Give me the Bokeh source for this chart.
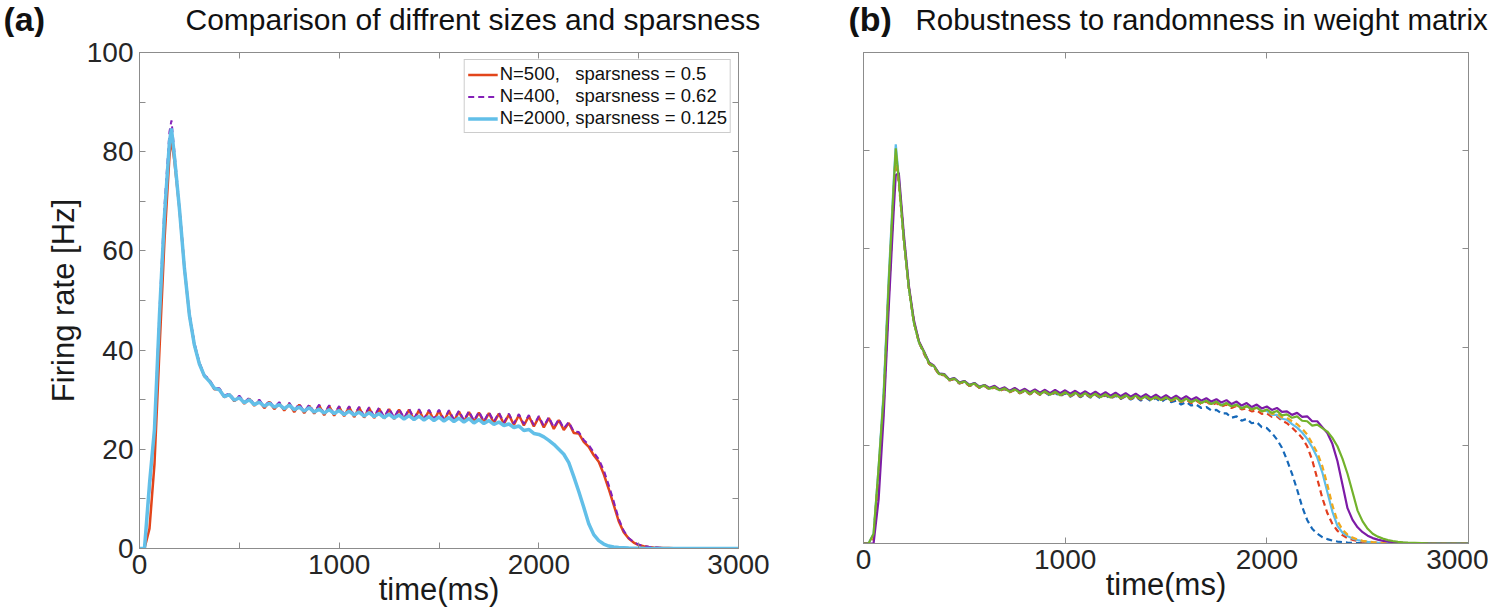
from bokeh.plotting import figure
from bokeh.models import LinearAxis, Range1d, FixedTicker, Legend, LegendItem, Label
from bokeh.layouts import row, column
from bokeh.embed import file_html
from bokeh.resources import INLINE

# ---------------- data ----------------
time_ms = [0, 25, 50, 75,
           100, 125, 150, 160, 175,
           200, 225, 250, 275,
           300, 325, 350, 375,
           400, 425, 450, 475,
           500, 525, 550, 575,
           600, 625, 650, 675,
           700, 725, 750, 775,
           800, 825, 850, 875,
           900, 925, 950, 975,
           1000, 1025, 1050, 1075,
           1100, 1125, 1150, 1175,
           1200, 1225, 1250, 1275,
           1300, 1325, 1350, 1375,
           1400, 1425, 1450, 1475,
           1500, 1525, 1550, 1575,
           1600, 1625, 1650, 1675,
           1700, 1725, 1750, 1775,
           1800, 1825, 1850, 1875,
           1900, 1925, 1950, 1975,
           2000, 2025, 2050, 2075,
           2100, 2125, 2150, 2175,
           2200, 2225, 2250, 2275,
           2300, 2325, 2350, 2375,
           2400, 2425, 2450, 2475,
           2500, 2525, 2550, 2575,
           2600, 2625, 2650, 2675,
           2700, 2800, 2900, 3000]

# panel (a)
rate_n500 = [0, 0, 4, 17,
             40, 62, 79, 82.7, 78,
             68.5, 56.5, 47, 41,
             37.3, 34.7, 33.9, 32.1,
             32.1, 30.5, 31.1, 29.7,
             30.6, 29.2, 30.2, 28.8,
             29.8, 28.3, 29.6, 28.1,
             29.3, 27.8, 29.2, 27.5,
             29.0, 27.3, 28.8, 27.2,
             28.8, 26.9, 28.7, 26.8,
             28.5, 26.7, 28.5, 26.5,
             28.4, 26.4, 28.3, 26.3,
             28.2, 26.2, 28.1, 26.1,
             28.0, 26.0, 28.0, 25.9,
             27.9, 25.9, 27.8, 25.8,
             27.8, 25.7, 27.7, 25.7,
             27.6, 25.6, 27.5, 25.5,
             27.4, 25.4, 27.3, 25.3,
             27.2, 25.1, 27.0, 24.9,
             26.9, 24.8, 26.7, 24.6,
             26.5, 24.4, 26.3, 24.1,
             25.9, 23.9, 25.3, 23.3,
             23.2, 21.5, 20.5, 18.8,
             17.5, 15.0, 12.0, 8.8,
             5.5, 3.3, 2.0, 1.2,
             0.7, 0.45, 0.3, 0.2,
             0.15, 0.1, 0.08, 0.05,
             0.03, 0.01, 0, 0]

rate_n400 = [0, 0, 12, 24,
             48, 69, 84, 86.3, 80,
             69, 57, 47.5, 41.5,
             37.5, 35.0, 34.1, 32.4,
             32.3, 30.8, 31.3, 30.0,
             30.8, 29.5, 30.4, 29.1,
             30.0, 28.6, 29.8, 28.4,
             29.5, 28.1, 29.4, 27.8,
             29.2, 27.6, 29.0, 27.5,
             29.0, 27.2, 28.9, 27.1,
             28.7, 27.0, 28.7, 26.8,
             28.6, 26.7, 28.5, 26.6,
             28.4, 26.5, 28.3, 26.4,
             28.2, 26.3, 28.2, 26.2,
             28.1, 26.2, 28.0, 26.1,
             28.0, 26.0, 27.9, 26.0,
             27.8, 25.9, 27.7, 25.8,
             27.6, 25.7, 27.5, 25.6,
             27.4, 25.4, 27.2, 25.2,
             27.1, 25.1, 26.9, 24.9,
             26.7, 24.7, 26.5, 24.4,
             26.1, 24.2, 25.5, 23.6,
             23.5, 21.9, 20.9, 19.4,
             18.0, 15.8, 12.8, 9.5,
             6.0, 3.6, 2.1, 1.3,
             0.8, 0.5, 0.35, 0.25,
             0.18, 0.12, 0.09, 0.06,
             0.04, 0.01, 0, 0]

rate_n2000 = [0, 0, 13, 24,
              47, 67, 82, 84.7, 79,
              68.5, 56.5, 47, 41,
              37.2, 34.8, 33.7, 32.3,
              32.0, 30.6, 31.0, 29.9,
              30.4, 29.4, 30.0, 29.0,
              29.5, 28.7, 29.3, 28.5,
              29.0, 28.2, 28.9, 28.0,
              28.5, 27.7, 28.4, 27.5,
              28.1, 27.3, 28.0, 27.2,
              27.8, 27.0, 27.7, 26.9,
              27.5, 26.7, 27.4, 26.6,
              27.2, 26.4, 27.1, 26.3,
              26.9, 26.1, 26.8, 26.0,
              26.7, 25.9, 26.6, 25.8,
              26.5, 25.7, 26.4, 25.6,
              26.3, 25.5, 26.2, 25.3,
              26.0, 25.2, 25.8, 25.0,
              25.5, 24.8, 25.1, 24.4,
              24.7, 23.8, 24.0, 23.2,
              23.0, 22.5, 21.8, 21.0,
              20.0, 19.0, 17.3, 14.5,
              11.5, 8.3, 5.0, 2.8,
              1.6, 0.9, 0.5, 0.3,
              0.2, 0.15, 0.1, 0.07,
              0.05, 0.03, 0.02, 0.01,
              0, 0, 0, 0,
              0, 0, 0, 0]

# panel (b)
rate_b_blue = [0, 0, 1.5, 14.5,
               30, 52, 72, 79.5, 74,
               62, 52, 45, 41,
               38.7, 36.6, 35.9, 34.4,
               34.3, 33.2, 33.5, 32.6,
               32.9, 32.1, 32.5, 31.7,
               32.1, 31.4, 31.8, 31.1,
               31.5, 30.8, 31.3, 30.6,
               31.1, 30.4, 31.0, 30.3,
               30.8, 30.1, 30.7, 30.0,
               30.6, 29.9, 30.5, 29.8,
               30.4, 29.7, 30.3, 29.6,
               30.2, 29.5, 30.1, 29.4,
               30.0, 29.3, 29.9, 29.1,
               29.7, 29.0, 29.6, 28.8,
               29.5, 28.8, 29.1, 28.3,
               28.8, 28.1, 28.3, 27.6,
               27.8, 27.1, 27.2, 26.5,
               26.5, 25.6, 25.9, 25.0,
               25.4, 24.5, 24.7, 23.7,
               23.5, 22.5, 21.2, 19.5,
               17.0, 14.2, 11.0, 7.5,
               4.8, 3.0, 2.0, 1.3,
               0.9, 0.6, 0.4, 0.3,
               0.2, 0.15, 0.1, 0.07,
               0.05, 0.03, 0.02, 0.01,
               0, 0, 0, 0,
               0, 0, 0, 0]

rate_b_red = [0, 0, 1, 13,
              28, 50, 70, 78.5, 73.5,
              62, 52, 45, 41,
              38.7, 36.6, 35.9, 34.4,
              34.3, 33.2, 33.5, 32.6,
              32.9, 32.1, 32.5, 31.7,
              32.1, 31.4, 31.8, 31.1,
              31.5, 30.8, 31.3, 30.6,
              31.1, 30.4, 31.0, 30.3,
              30.9, 30.2, 30.8, 30.1,
              30.7, 30.0, 30.6, 29.9,
              30.5, 29.8, 30.4, 29.7,
              30.3, 29.6, 30.2, 29.5,
              30.1, 29.4, 30.0, 29.3,
              29.9, 29.2, 29.8, 29.1,
              29.7, 29.0, 29.5, 28.8,
              29.3, 28.6, 29.1, 28.4,
              28.9, 28.2, 28.6, 27.9,
              28.3, 27.6, 28.0, 27.3,
              27.5, 26.9, 27.1, 26.4,
              26.5, 25.8, 25.9, 25.0,
              24.5, 23.6, 22.6, 21.5,
              19.8, 17.0, 13.2, 9.3,
              6.2, 4.0, 2.6, 1.7,
              1.1, 0.75, 0.5, 0.35,
              0.25, 0.18, 0.12, 0.08,
              0.05, 0.03, 0.02, 0.01,
              0, 0, 0, 0]

rate_b_yellow = [0, 0, 1.5, 14.5,
                 29, 52, 72, 79.5, 74,
                 62, 52, 45, 41,
                 38.9, 36.7, 36.0, 34.5,
                 34.4, 33.3, 33.6, 32.7,
                 33.0, 32.2, 32.6, 31.8,
                 32.2, 31.5, 31.9, 31.2,
                 31.6, 30.9, 31.4, 30.7,
                 31.2, 30.5, 31.1, 30.4,
                 31.0, 30.3, 30.9, 30.2,
                 30.8, 30.1, 30.7, 30.0,
                 30.6, 29.9, 30.5, 29.8,
                 30.4, 29.7, 30.3, 29.6,
                 30.2, 29.5, 30.1, 29.4,
                 30.0, 29.3, 29.9, 29.2,
                 29.8, 29.1, 29.6, 28.9,
                 29.4, 28.8, 29.2, 28.6,
                 29.0, 28.4, 28.8, 28.1,
                 28.5, 27.9, 28.2, 27.5,
                 27.9, 27.3, 27.6, 26.9,
                 27.1, 26.4, 26.5, 25.7,
                 25.6, 24.9, 24.3, 23.4,
                 22.2, 20.4, 18.5, 15.8,
                 12.0, 7.8, 4.6, 2.8,
                 1.8, 1.2, 0.8, 0.55,
                 0.4, 0.28, 0.2, 0.14,
                 0.1, 0.07, 0.05, 0.03,
                 0.02, 0, 0, 0]

rate_b_cyan = [0, 0, 2, 15.5,
               31, 54, 74, 81.3, 74.5,
               62, 52, 45, 41,
               39.0, 36.8, 36.1, 34.6,
               34.5, 33.4, 33.7, 32.8,
               33.1, 32.3, 32.7, 31.9,
               32.3, 31.6, 32.0, 31.3,
               31.7, 31.0, 31.5, 30.8,
               31.3, 30.6, 31.2, 30.5,
               31.1, 30.4, 31.0, 30.3,
               30.9, 30.2, 30.8, 30.1,
               30.7, 30.0, 30.6, 29.9,
               30.5, 29.8, 30.4, 29.7,
               30.3, 29.6, 30.2, 29.5,
               30.1, 29.4, 30.0, 29.3,
               29.9, 29.2, 29.7, 29.0,
               29.5, 28.9, 29.3, 28.7,
               29.1, 28.5, 28.9, 28.2,
               28.6, 28.0, 28.3, 27.6,
               28.0, 27.4, 27.7, 27.0,
               27.0, 26.2, 26.2, 25.4,
               25.2, 24.3, 23.6, 22.6,
               21.3, 19.6, 17.5, 14.5,
               10.5, 6.5, 3.6, 2.2,
               1.5, 1.0, 0.7, 0.5,
               0.35, 0.25, 0.18, 0.12,
               0.08, 0.05, 0.03, 0.02,
               0.01, 0, 0, 0]

rate_b_purple = [0, 0, 0, 9,
                 26, 48, 68, 75, 75.5,
                 63, 52.5, 45.5, 41.2,
                 39.1, 36.9, 36.2, 34.6,
                 34.5, 33.4, 33.7, 32.8,
                 33.1, 32.3, 32.7, 31.9,
                 32.3, 31.7, 32.1, 31.4,
                 31.8, 31.1, 31.7, 31.0,
                 31.5, 30.8, 31.4, 30.7,
                 31.3, 30.6, 31.3, 30.6,
                 31.2, 30.5, 31.1, 30.4,
                 31.0, 30.3, 30.9, 30.2,
                 30.8, 30.1, 30.7, 30.0,
                 30.6, 29.9, 30.5, 29.8,
                 30.4, 29.7, 30.3, 29.6,
                 30.2, 29.5, 30.1, 29.4,
                 30.0, 29.3, 29.8, 29.1,
                 29.6, 28.9, 29.4, 28.7,
                 29.2, 28.4, 28.9, 28.1,
                 28.6, 27.8, 28.3, 27.5,
                 27.9, 27.2, 27.6, 26.8,
                 26.9, 26.2, 26.6, 25.8,
                 25.9, 24.9, 24.9, 23.7,
                 22.5, 20.3, 16.8, 12.0,
                 7.2, 4.8, 3.3, 2.3,
                 1.6, 1.1, 0.8, 0.55,
                 0.4, 0.3, 0.2, 0.15,
                 0.1, 0.02, 0, 0]

rate_b_green = [0, 0, 2, 15.5,
                30, 53, 73, 80.5, 74,
                62, 52, 45, 41,
                39.0, 36.7, 36.1, 34.5,
                34.4, 33.3, 33.6, 32.7,
                33.0, 32.2, 32.6, 31.8,
                32.2, 31.5, 31.9, 31.2,
                31.6, 30.9, 31.4, 30.7,
                31.2, 30.5, 31.1, 30.4,
                31.0, 30.3, 30.9, 30.2,
                30.8, 30.1, 30.7, 30.0,
                30.6, 29.9, 30.5, 29.8,
                30.4, 29.7, 30.3, 29.6,
                30.2, 29.5, 30.1, 29.4,
                30.0, 29.3, 29.9, 29.2,
                29.8, 29.1, 29.7, 28.9,
                29.5, 28.8, 29.3, 28.6,
                29.1, 28.4, 28.9, 28.1,
                28.6, 27.9, 28.3, 27.5,
                28.0, 27.3, 27.7, 26.9,
                27.3, 26.6, 27.0, 26.1,
                26.3, 25.6, 25.9, 25.0,
                24.9, 24.0, 24.2, 23.5,
                22.8, 21.5, 19.8, 17.3,
                14.2, 10.5, 6.7, 4.5,
                3.0, 2.0, 1.4, 1.0,
                0.7, 0.5, 0.35, 0.25,
                0.2, 0.05, 0, 0]

legend_labels = ["N=500,   sparsness = 0.5",
                 "N=400,   sparsness = 0.62",
                 "N=2000, sparsness = 0.125"]
panel_tags = ["(a)", "(b)"]
panel_titles = ["Comparison of diffrent sizes and sparsness",
                "Robustness to randomness in weight matrix"]
x_ticks = [0, 1000, 2000, 3000]
x_minor = [500, 1500, 2500]
y_ticks = [0, 20, 40, 60, 80, 100]
y_minor = [10, 30, 50, 70, 90]

for s in [rate_n500, rate_n400, rate_n2000, rate_b_blue, rate_b_red, rate_b_yellow,
          rate_b_cyan, rate_b_purple, rate_b_green]:
    assert len(s) == len(time_ms), len(s)

FONT = "Liberation Sans"
GRAY = "#8c8c8c"
TXT = "#262626"
TOP_H = 37


def style_axis(ax, minor, show_labels):
    ax.axis_line_color = GRAY
    ax.major_tick_line_color = GRAY
    ax.minor_tick_line_color = GRAY if minor else None
    ax.major_tick_in = 6
    ax.major_tick_out = 0
    ax.minor_tick_in = 6
    ax.minor_tick_out = 0
    ax.major_label_text_font = FONT
    if show_labels:
        ax.major_label_text_color = TXT
        ax.major_label_text_font_size = "28px"
        ax.major_label_standoff = 6
    else:
        ax.major_label_text_color = None
        ax.major_label_text_font_size = "1px"
        ax.major_label_standoff = 0
        ax.axis_label_standoff = 0
    ax.axis_label_text_font = FONT
    ax.axis_label_text_font_style = "normal"
    ax.axis_label_text_color = "#1a1a1a"


def make_fig(border_left, border_right, border_top, fw, fh, minor, y_labels):
    p = figure(frame_width=fw, frame_height=fh,
               x_range=Range1d(0, 3000), y_range=Range1d(0, 100),
               output_backend="svg", toolbar_location=None, title_location=None,
               min_border_left=border_left, min_border_right=border_right,
               min_border_top=border_top, min_border_bottom=67)
    p.grid.visible = False
    p.outline_line_color = GRAY
    p.background_fill_color = "white"
    p.border_fill_color = "white"
    xt = FixedTicker(ticks=x_ticks, minor_ticks=x_minor if minor else [])
    yt = FixedTicker(ticks=y_ticks, minor_ticks=y_minor if minor else [])
    p.xaxis.ticker = xt
    p.yaxis.ticker = yt
    style_axis(p.xaxis[0], minor, True)
    style_axis(p.yaxis[0], minor, y_labels)
    p.xaxis.axis_label = "time(ms)"
    p.xaxis.axis_label_text_font_size = "31px"
    p.xaxis.axis_label_standoff = -5
    if y_labels:
        p.yaxis.axis_label = "Firing rate [Hz]"
        p.yaxis.axis_label_text_font_size = "31px"
        p.yaxis.axis_label_standoff = 3
    top = LinearAxis(ticker=xt)
    style_axis(top, minor, False)
    p.add_layout(top, "above")
    right = LinearAxis(ticker=yt)
    style_axis(right, minor, False)
    p.add_layout(right, "right")
    return p


# ---------------- header row (panel tags and titles) ----------------
head = figure(width=1496, height=TOP_H, x_range=Range1d(0, 1496), y_range=Range1d(TOP_H, 0),
              output_backend="svg", toolbar_location=None, title_location=None,
              x_axis_location=None, y_axis_location=None, min_border=0)
head.outline_line_color = None
head.grid.visible = False
head.add_layout(Label(x=3, y=18.5, text=panel_tags[0], text_font=FONT, text_font_size="34px",
                      text_font_style="bold", text_color="#111111",
                      text_baseline="middle"))
head.add_layout(Label(x=185, y=18.5, text=panel_titles[0], text_font=FONT,
                      text_font_size="30px", text_color="#111111",
                      text_baseline="middle"))
head.add_layout(Label(x=848, y=18.5, text=panel_tags[1], text_font=FONT, text_font_size="34px",
                      text_font_style="bold", text_color="#111111",
                      text_baseline="middle"))
head.add_layout(Label(x=915, y=18.5, text=panel_titles[1], text_font=FONT,
                      text_font_size="29.5px", text_color="#111111",
                      text_baseline="middle"))

# ---------------- panel (a) ----------------
pa = make_fig(139, 40, 47 - TOP_H, 599, 496, True, True)
r1 = pa.line(time_ms, rate_n500, line_color="#E2451B", line_width=2.5)
r2 = pa.line(time_ms, rate_n400, line_color="#8420B8", line_width=2, line_dash="6 4")
r3 = pa.line(time_ms, rate_n2000, line_color="#62BFE8", line_width=3.5)
leg = Legend(items=[LegendItem(label=legend_labels[0], renderers=[r1]),
                    LegendItem(label=legend_labels[1], renderers=[r2]),
                    LegendItem(label=legend_labels[2], renderers=[r3])],
             location="top_right")
leg.label_text_font = FONT
leg.label_text_font_size = "18.5px"
leg.label_text_color = "#111111"
leg.border_line_color = "#9a9a9a"
leg.border_line_width = 1
leg.background_fill_alpha = 1
leg.glyph_width = 30
leg.glyph_height = 19
leg.label_height = 19
leg.label_standoff = 2
leg.spacing = 0
leg.padding = 3
leg.margin = 7
pa.add_layout(leg)

# ---------------- panel (b) ----------------
pb = make_fig(85, 20, 52 - TOP_H, 605, 491, False, False)
pb.line(time_ms, rate_b_blue, line_color="#1668B8", line_width=2.2, line_dash="6 4")
pb.line(time_ms, rate_b_red, line_color="#E23E1E", line_width=2.2, line_dash="6 4")
pb.line(time_ms, rate_b_cyan, line_color="#5DBDEB", line_width=2.2)
pb.line(time_ms, rate_b_yellow, line_color="#F0A81C", line_width=2.2, line_dash="6 4")
pb.line(time_ms, rate_b_purple, line_color="#7D1BA6", line_width=2.2)
pb.line(time_ms, rate_b_green, line_color="#72B22B", line_width=2.2)

layout = column(head, row(pa, pb))
open("out.html", "w").write(file_html(layout, INLINE))
